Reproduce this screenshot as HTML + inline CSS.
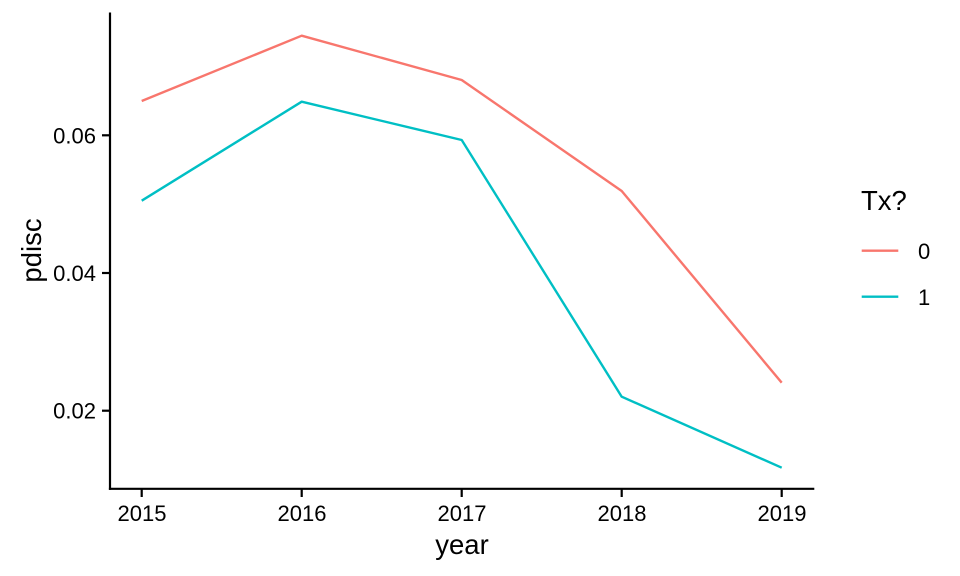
<!DOCTYPE html>
<html>
<head>
<meta charset="utf-8">
<style>
  html, body { margin: 0; padding: 0; background: #ffffff; }
  svg { display: block; }
  text { font-family: "Liberation Sans", Arial, sans-serif; fill: #000; }
</style>
</head>
<body>
<svg width="960" height="576" viewBox="0 0 960 576" xmlns="http://www.w3.org/2000/svg">
  <rect x="0" y="0" width="960" height="576" fill="#ffffff"/>

  <!-- series -->
  <polyline fill="none" stroke="#F8766D" stroke-width="2.4" stroke-linejoin="round" stroke-linecap="butt"
    points="141.7,101 301.7,35.7 461.7,80 621.7,191 781.7,382.7"/>
  <polyline fill="none" stroke="#00BFC4" stroke-width="2.4" stroke-linejoin="round" stroke-linecap="butt"
    points="141.7,200.7 301.7,101.7 461.7,140 621.7,396.7 781.7,467.7"/>

  <!-- axes -->
  <line x1="110" y1="12.5" x2="110" y2="489.9" stroke="#000" stroke-width="2.2"/>
  <line x1="108.9" y1="488.8" x2="814.3" y2="488.8" stroke="#000" stroke-width="2.2"/>

  <!-- y ticks -->
  <line x1="102" y1="135.3" x2="110" y2="135.3" stroke="#000" stroke-width="2.2"/>
  <line x1="102" y1="273" x2="110" y2="273" stroke="#000" stroke-width="2.2"/>
  <line x1="102" y1="410.7" x2="110" y2="410.7" stroke="#000" stroke-width="2.2"/>
  <g font-size="22" text-anchor="end">
    <text x="96" y="143.3">0.06</text>
    <text x="96" y="281">0.04</text>
    <text x="96" y="418.7">0.02</text>
  </g>

  <!-- x ticks -->
  <g stroke="#000" stroke-width="2.2">
    <line x1="141.7" y1="488.8" x2="141.7" y2="497"/>
    <line x1="301.7" y1="488.8" x2="301.7" y2="497"/>
    <line x1="461.7" y1="488.8" x2="461.7" y2="497"/>
    <line x1="621.7" y1="488.8" x2="621.7" y2="497"/>
    <line x1="781.7" y1="488.8" x2="781.7" y2="497"/>
  </g>
  <g font-size="22" text-anchor="middle">
    <text x="142" y="521">2015</text>
    <text x="302" y="521">2016</text>
    <text x="462" y="521">2017</text>
    <text x="622" y="521">2018</text>
    <text x="782" y="521">2019</text>
  </g>

  <!-- axis titles -->
  <text x="462" y="554" font-size="27.5" text-anchor="middle">year</text>
  <text transform="translate(41,250.5) rotate(-90)" font-size="27.5" text-anchor="middle">pdisc</text>

  <!-- legend -->
  <text x="861" y="210" font-size="27.5">Tx?</text>
  <line x1="861.7" y1="250.7" x2="898.3" y2="250.7" stroke="#F8766D" stroke-width="2.4"/>
  <line x1="861.7" y1="296.7" x2="898.3" y2="296.7" stroke="#00BFC4" stroke-width="2.4"/>
  <text x="918" y="259" font-size="22">0</text>
  <text x="918" y="305" font-size="22">1</text>
</svg>
</body>
</html>
